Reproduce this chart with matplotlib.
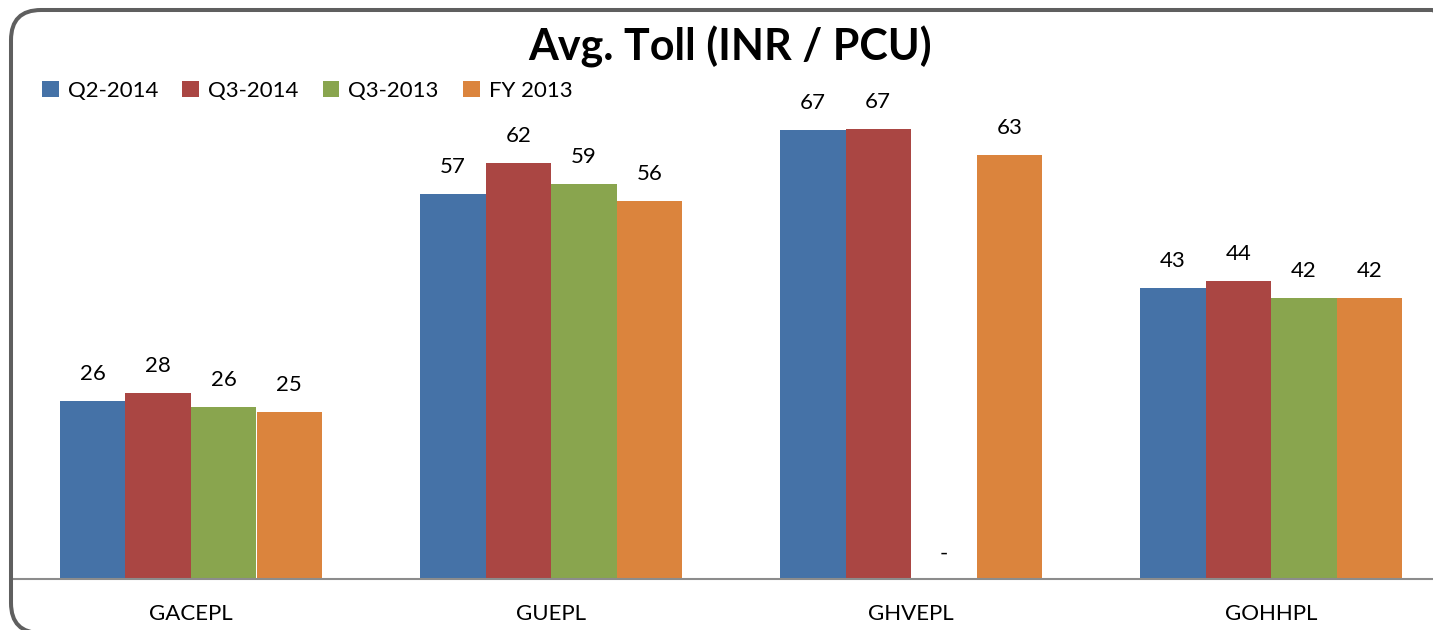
import numpy as np
import matplotlib.pyplot as plt
from matplotlib.patches import FancyBboxPatch

#%% data
companies = ["GACEPL", "GUEPL", "GHVEPL", "GOHHPL"]
series = ["Q2-2014", "Q3-2014", "Q3-2013", "FY 2013"]
q2_2014 = [26.5, 57.4, 67.0, 43.4]
q3_2014 = [27.8, 62.1, 67.2, 44.5]
q3_2013 = [25.7, 59.0, np.nan, 41.9]
fy_2013 = [24.9, 56.4, 63.3, 41.9]
colors = ["#4572A7", "#AA4643", "#89A54E", "#DB843D"]

values = [q2_2014, q3_2014, q3_2013, fy_2013]

#%% figure
W, H = 1433, 630
fig = plt.figure(figsize=(W / 100, H / 100), dpi=100)
plt.rcParams['font.family'] = ['Lato', 'DejaVu Sans']

# axes placed in pixels: baseline at y=579, left at x=14
x_left, x_right = 14, W
base_y = 579
px_per_unit = 6.7
ymax = 75
ax = fig.add_axes([x_left / W, (H - base_y) / H, (x_right - x_left) / W,
                   ymax * px_per_unit / H])
ax.set_xlim(-177 / 360, (W - 191) / 360)
ax.set_ylim(0, ymax)

bw = 65.5 / 360
x = np.arange(len(companies))
for i, (vals, c) in enumerate(zip(values, colors)):
    xs = x + (i - 1.5) * bw
    ax.bar(xs, np.nan_to_num(vals), width=bw, color=c, linewidth=0, label=series[i])
    for xi, v in zip(xs, vals):
        if np.isnan(v):
            ax.annotate("-", (xi, 0), xytext=(0, 25), textcoords="offset pixels",
                        ha="center", va="center", fontsize=16)
        else:
            ax.annotate("%d" % round(v), (xi, v), xytext=(0, 27), textcoords="offset pixels",
                        ha="center", va="center", fontsize=16)

for s in ["top", "right", "left"]:
    ax.spines[s].set_visible(False)
ax.spines["bottom"].set_color("#8c8c8c")
ax.spines["bottom"].set_linewidth(1.5)
ax.set_yticks([])
ax.set_xticks(x)
ax.set_xticklabels(companies, fontsize=16)
ax.tick_params(axis="x", length=0, pad=18)

fig.text(730 / W, 1 - 47 / H, "Avg. Toll (INR / PCU)", ha="center", va="center",
         fontsize=31, fontweight="bold")

leg = fig.legend(loc="center left", bbox_to_anchor=(42 / W, 1 - 91 / H), ncol=4,
                 frameon=False, fontsize=16, handlelength=0.75, handleheight=0.75,
                 handletextpad=0.4, columnspacing=1.1, borderaxespad=0, borderpad=0)

# rounded frame
frame = FancyBboxPatch((11 + 30, -3 + 30), 1462 - 11 - 60, (H - 10) - (-3) - 60,
                       boxstyle="round,pad=30", transform=None, fill=False,
                       edgecolor="#5f5f5f", linewidth=2.9, zorder=10)
fig.patches.append(frame)

plt.savefig("out.png", dpi=100)
